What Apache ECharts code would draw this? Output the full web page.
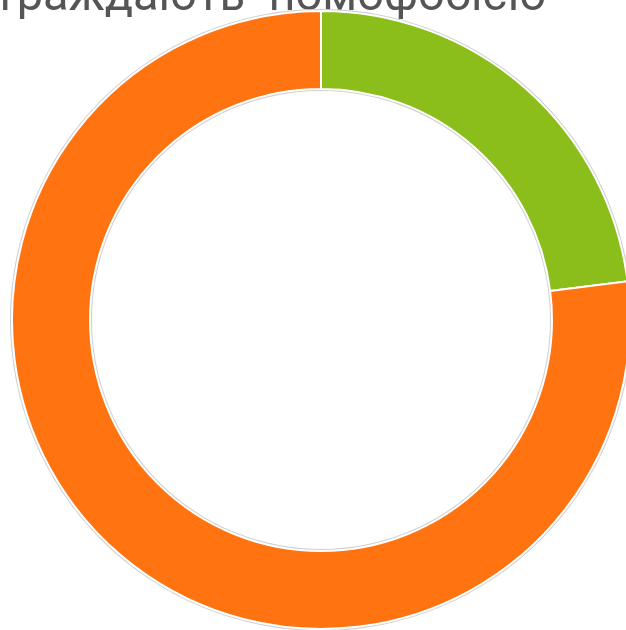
<!DOCTYPE html>
<html>
<head>
<meta charset="utf-8">
<script src="https://cdn.jsdelivr.net/npm/echarts@6/dist/echarts.min.js"></script>
<style>
html, body { margin: 0; padding: 0; background: #fff; }
#chart { width: 626px; height: 630px; }
</style>
</head>
<body>
<div id="chart"></div>
<script>
// частки
var names = ['Так', 'Ні'];
var values = [23, 77];
var colors = ['#8BBE1B', '#FF7410'];
var titleText = 'страждають  номофобією';

var myChart = echarts.init(document.getElementById('chart'));
var pieData = [];
for (var i = 0; i < values.length; i++) {
    pieData.push({ name: names[i], value: values[i], itemStyle: { color: colors[i] } });
}

var option = {
    animation: false,
    graphic: [
        {
            type: 'text',
            right: 80,
            top: -25,
            style: {
                text: titleText,
                font: '47px Roboto, "Noto Sans", sans-serif',
                fill: '#555'
            }
        }
    ],
    series: [
        {
            // сіра обводка
            type: 'pie',
            center: [321, 320],
            radius: [229, 311],
            silent: true,
            label: { show: false },
            labelLine: { show: false },
            itemStyle: { color: '#cfcfcf' },
            data: [1]
        },
        {
            name: 'номофобія',
            type: 'pie',
            center: [321, 320],
            radius: [231, 309],
            startAngle: 90,
            label: { show: false },
            labelLine: { show: false },
            itemStyle: { borderColor: '#fff', borderWidth: 2 },
            data: pieData
        }
    ]
};
myChart.setOption(option, true);
</script>
</body>
</html>
